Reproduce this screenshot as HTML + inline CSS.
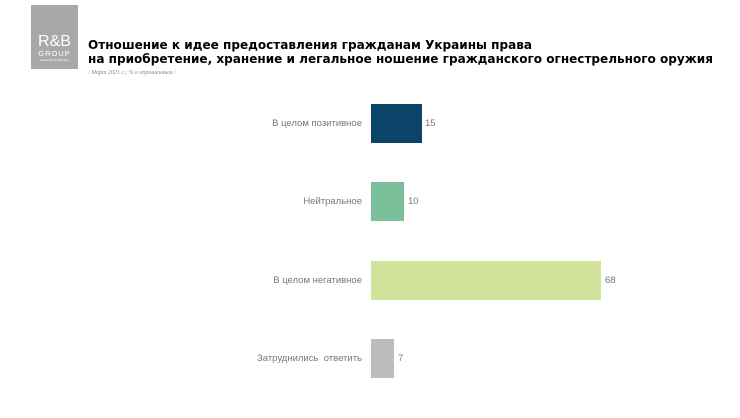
<!DOCTYPE html><html><head><meta charset="utf-8"><style>
body{margin:0;width:740px;height:418px;background:#fff;position:relative;overflow:hidden;font-family:"Liberation Sans",sans-serif}
.a{position:absolute}
.lab{position:absolute;right:378px;font-size:9.5px;color:#777;text-align:right;white-space:nowrap}
.v{position:absolute;font-size:9.5px;color:#777}
</style></head><body>
<div class="a" style="left:31px;top:5px;width:47px;height:64px;background:#a8a8a8;color:#fff;text-align:center">
<div style="margin-top:29px;font-size:16px;line-height:15px">R&amp;B</div>
<div style="font-size:7.5px;letter-spacing:1px;line-height:9px">GROUP</div>
<div style="font-size:3px;line-height:5px">Research &amp; Branding</div></div>
<div class="a" style="left:88px;top:38px;font-family:'DejaVu Sans',sans-serif;font-size:12.05px;font-weight:bold;line-height:14px;color:#000;white-space:nowrap">Отношение к идее предоставления гражданам Украины права<br>на приобретение, хранение и легальное ношение гражданского огнестрельного оружия</div>
<div class="a" style="left:88px;top:70px;font-size:6px;font-style:italic;color:#888;font-family:'Liberation Serif',serif">/ Март 2021 г.; % к опрошенным /</div>
<div class="a" style="left:371px;top:104px;width:51px;height:39px;background:#0b4468"></div>
<div class="a" style="left:371px;top:182px;width:33px;height:39px;background:#7bbf9a"></div>
<div class="a" style="left:371px;top:261px;width:230px;height:39px;background:#d1e29b"></div>
<div class="a" style="left:371px;top:339px;width:23px;height:39px;background:#bdbdbd"></div>
<div class="lab" style="top:118px">В целом позитивное</div>
<div class="lab" style="top:196px">Нейтральное</div>
<div class="lab" style="top:275px">В целом негативное</div>
<div class="lab" style="top:353px">Затруднились&nbsp; ответить</div>
<div class="v" style="left:425px;top:118px">15</div>
<div class="v" style="left:408px;top:196px">10</div>
<div class="v" style="left:605px;top:275px">68</div>
<div class="v" style="left:398px;top:353px">7</div>
</body></html>
